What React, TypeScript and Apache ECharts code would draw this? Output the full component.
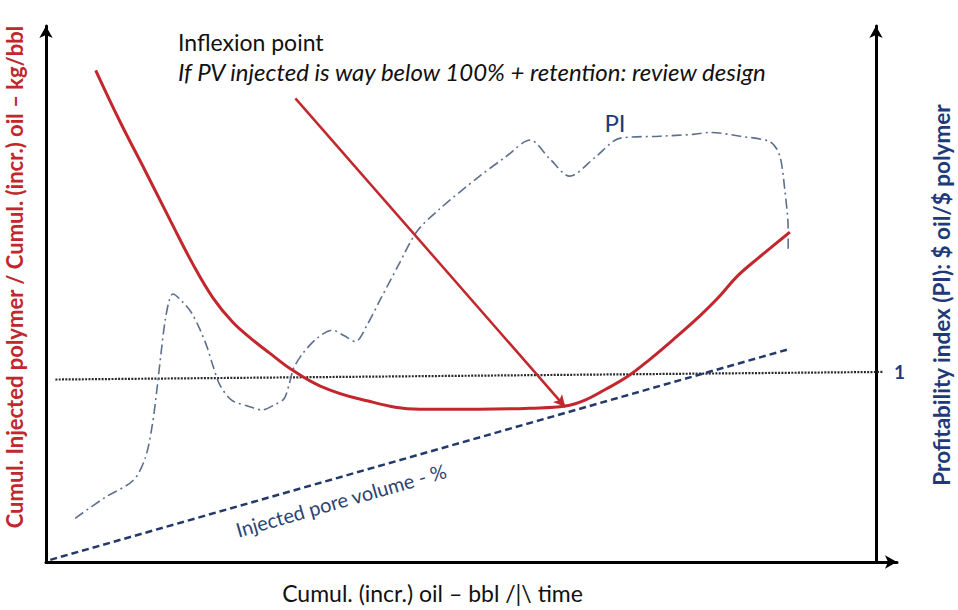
import React, { useEffect, useRef } from "react";
import * as echarts from "echarts";

// Axis titles and annotations
const xAxisTitle = "Cumul. (incr.) oil – bbl /|\\ time";
const leftAxisTitle = "Cumul. Injected polymer / Cumul. (incr.) oil – kg/bbl";
const rightAxisTitle = "Profitability index (PI): $ oil/$ polymer";
const noteTitle = "Inflexion point";
const noteText = "If PV injected is way below 100% + retention: review design";
const piLabel = "PI";
const poreLabel = "Injected pore volume - %";
const piTickLabels = ["1"];

// Red curve: cumul. injected polymer / cumul. oil (left axis, 0-100 schematic units)
const redX = [5.8, 8.6, 11.6, 14.5, 17.2, 19.5, 21.8, 24.0, 26.1, 28.7, 32.0, 36.6, 43.6, 50.6, 56.5, 60.6, 62.9, 65.2, 67.8, 70.5, 73.4, 76.3, 78.4, 80.7, 83.1, 85.4, 86.8];
const redY = [91.1, 81.7, 72.4, 63.3, 55.0, 48.9, 44.4, 41.3, 38.7, 35.6, 32.6, 30.2, 28.3, 28.3, 28.5, 28.9, 30.0, 31.9, 34.3, 37.6, 41.5, 45.6, 48.9, 53.0, 56.3, 59.3, 61.1];

// PI curve (right axis, PI units)
const piX = [3.4, 6.9, 10.2, 11.6, 12.4, 13.0, 13.4, 13.9, 14.4, 14.8, 15.9, 17.0, 18.0, 18.8, 19.5, 20.3, 21.7, 23.6, 25.2, 26.8, 27.8, 28.4, 28.9, 30.0, 31.7, 33.4, 34.8, 36.1, 37.5, 39.0, 41.1, 43.3, 46.0, 50.6, 53.6, 56.5, 58.8, 61.1, 64.1, 67.0, 71.6, 75.5, 77.5, 81.0, 84.5, 85.6, 86.2, 86.6, 86.6];
const piY = [0.23, 0.34, 0.43, 0.55, 0.72, 0.93, 1.09, 1.27, 1.38, 1.41, 1.37, 1.31, 1.22, 1.13, 1.03, 0.93, 0.85, 0.82, 0.80, 0.83, 0.86, 0.94, 1.02, 1.10, 1.18, 1.22, 1.19, 1.16, 1.25, 1.38, 1.56, 1.74, 1.86, 2.03, 2.13, 2.22, 2.12, 2.03, 2.13, 2.23, 2.24, 2.25, 2.26, 2.24, 2.21, 2.14, 1.96, 1.75, 1.63];

// Injected pore volume (left axis)
const poreX = [0.5, 86.6];
const poreY = [0.4, 39.4];

// PI = 1 reference line (right axis)
const unityX = [1.1, 97.7];
const unityY = [0.96, 1.0];

// Inflexion arrow (left axis)
const arrowX = [29.1, 60.6];
const arrowY = [85.9, 28.7];

const zip = (xs: number[], ys: number[]) => xs.map((x, i) => [x, ys[i]]);

const RED = "#c1272d";
const NAVY = "#1f3a7a";
const FONT = "Lato";

export default function App() {
  const ref = useRef<HTMLDivElement>(null);
  useEffect(() => {
    document.body.style.margin = "0";
    const chart = echarts.init(ref.current!, null, { renderer: "svg" });
    const axisLine = {
      show: true,
      onZero: false,
      symbol: ["none", "arrow"],
      symbolSize: [10, 12],
      lineStyle: { color: "#000", width: 3 },
    };
    chart.setOption({
      animation: false,
      backgroundColor: "#fff",
      textStyle: { fontFamily: FONT },
      grid: { left: 46, right: 61, top: 26, bottom: 48, containLabel: false, outerBoundsMode: "none" },
      xAxis: {
        type: "value",
        min: 0,
        max: 99.3,
        axisLine,
        axisTick: { show: false },
        axisLabel: { show: false },
        splitLine: { show: false },
        name: xAxisTitle,
        nameLocation: "middle",
        nameGap: 19,
        nameTextStyle: { fontSize: 23, color: "#111", fontFamily: FONT, padding: [0, 78, 0, 0] },
      },
      yAxis: [
        {
          type: "value",
          min: 0,
          max: 99.3,
          position: "left",
          axisLine,
          axisTick: { show: false },
          axisLabel: { show: false },
          splitLine: { show: false },
        },
        {
          type: "value",
          min: 0,
          max: 2.82,
          interval: 1,
          position: "right",
          offset: -21,
          axisLine,
          axisTick: { show: false },
          axisLabel: {
            show: true,
            margin: 18,
            color: NAVY,
            fontWeight: "bold",
            fontSize: 19,
            fontFamily: FONT,
            formatter: (v: number) => (piTickLabels.includes(String(v)) ? String(v) : ""),
          },
          splitLine: { show: false },
        },
      ],
      series: [
        {
          name: "unity",
          type: "line",
          yAxisIndex: 1,
          data: zip(unityX, unityY),
          showSymbol: false,
          lineStyle: { color: "#2a2a2a", width: 2.2, type: [2, 1.3] },
        },
        {
          name: "pore",
          type: "line",
          yAxisIndex: 0,
          data: zip(poreX, poreY),
          showSymbol: false,
          lineStyle: { color: "#24396b", width: 2.5, type: [7, 4] },
        },
        {
          name: "PI",
          type: "line",
          yAxisIndex: 1,
          data: zip(piX, piY),
          showSymbol: false,
          smooth: 0.3,
          lineStyle: { color: "#5d6f8f", width: 1.6, type: [10, 4, 2, 4] },
        },
        {
          name: "polymer",
          type: "line",
          yAxisIndex: 0,
          data: zip(redX, redY),
          showSymbol: false,
          smooth: 0.4,
          lineStyle: { color: RED, width: 3 },
          markLine: {
            silent: true,
            symbol: ["none", "arrow"],
            symbolSize: [9, 12],
            label: { show: false },
            lineStyle: { color: RED, width: 2.5, type: "solid" },
            data: [[{ coord: [arrowX[0], arrowY[0]] }, { coord: [arrowX[1], arrowY[1]] }]],
          },
        },
      ],
      graphic: [
        {
          type: "text",
          x: 178,
          y: 42,
          style: { text: noteTitle, font: `23px ${FONT}`, fill: "#111", textVerticalAlign: "middle" },
        },
        {
          type: "text",
          x: 178,
          y: 71,
          style: { text: noteText, font: `italic 24px ${FONT}`, fill: "#111", textVerticalAlign: "middle" },
        },
        {
          type: "text",
          x: 615,
          y: 122,
          style: { text: piLabel, font: `24px ${FONT}`, fill: NAVY, textAlign: "center", textVerticalAlign: "middle" },
        },
        {
          type: "text",
          x: 341,
          y: 500,
          rotation: 0.279,
          style: { text: poreLabel, font: `20px ${FONT}`, fill: "#2b4372", textAlign: "center", textVerticalAlign: "middle" },
        },
        {
          type: "text",
          x: 14,
          y: 277,
          rotation: Math.PI / 2,
          style: { text: leftAxisTitle, font: `bold 22px ${FONT}`, fill: RED, textAlign: "center", textVerticalAlign: "middle" },
        },
        {
          type: "text",
          x: 941,
          y: 295,
          rotation: Math.PI / 2,
          style: { text: rightAxisTitle, font: `bold 22.5px ${FONT}`, fill: NAVY, textAlign: "center", textVerticalAlign: "middle" },
        },
      ],
    });
    return () => chart.dispose();
  }, []);
  return <div ref={ref} style={{ width: 958, height: 610, background: "#fff" }} />;
}
